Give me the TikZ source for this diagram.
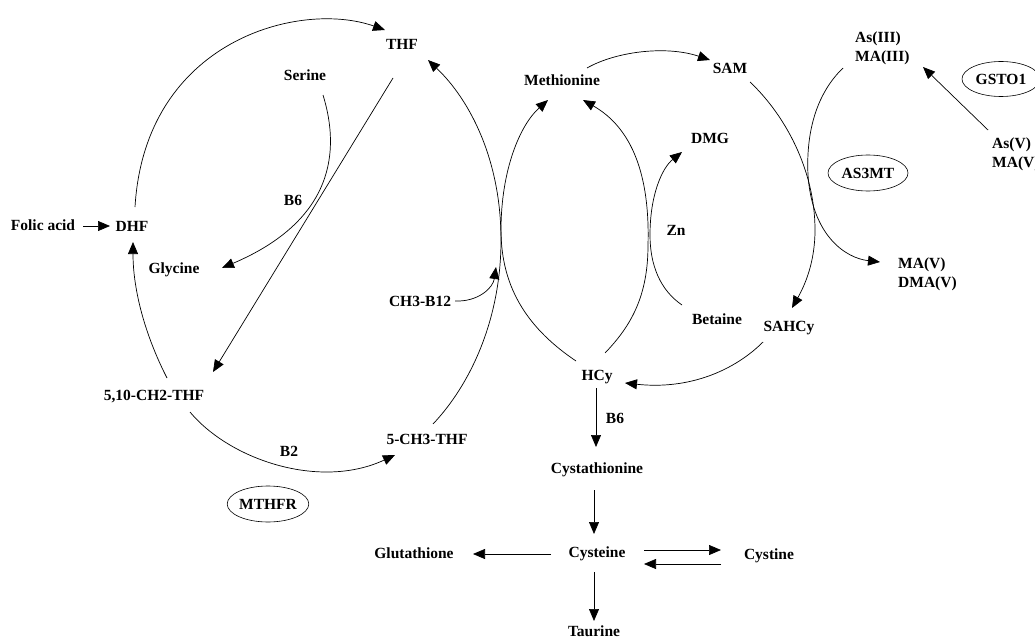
\documentclass[tikz,border=0pt]{standalone}
\usepackage{fontspec}
\setmainfont{Liberation Serif}
\usetikzlibrary{arrows.meta,calc,shapes.geometric}
\begin{document}
\begin{tikzpicture}[x=1pt,y=-1pt,
  lbl/.style={inner sep=0pt,font=\fontsize{15.5}{19}\selectfont\bfseries,text height=10.3pt,text depth=0pt},
  enz/.style={lbl,draw,ellipse,line width=0.6pt,minimum width=80pt,minimum height=36pt},
  arr/.style={-{Triangle[length=12pt,width=10pt]},line width=0.7pt},
  ]
\fill[white] (0,0) rectangle (1035,639);
\useasboundingbox (0,0) rectangle (1035,639);
\clip (0,0) rectangle (1035,639);

% labels
\node[lbl] (folic) at (43,225) {Folic acid};
\node[lbl] (DHF) at (132,226) {DHF};
\node[lbl] (THF) at (402,44) {THF};
\node[lbl] (Serine) at (305,75) {Serine};
\node[lbl] (B6a) at (293,200) {B6};
\node[lbl] (Glycine) at (174,268) {Glycine};
\node[lbl] (CH3B12) at (420,301) {CH3-B12};
\node[lbl] (CH2THF) at (154,395) {5,10-CH2-THF};
\node[lbl] (B2) at (289,451) {B2};
\node[lbl] (CH3THF) at (427,439) {5-CH3-THF};
\node[enz] (MTHFR) at (268,504) {MTHFR};
\node[lbl] (Glutathione) at (414,553) {Glutathione};
\node[lbl] (Cysteine) at (597,552) {Cysteine};
\node[lbl] (Cystine) at (769,554) {Cystine};
\node[lbl] (Taurine) at (594,631) {Taurine};
\node[lbl] (Cystathionine) at (597,468) {Cystathionine};
\node[lbl] (HCy) at (597,375) {HCy};
\node[lbl] (B6b) at (615,418) {B6};
\node[lbl] (SAHCy) at (789,326) {SAHCy};
\node[lbl] (Betaine) at (717,319) {Betaine};
\node[lbl] (Zn) at (676,230) {Zn};
\node[lbl] (DMG) at (710,138) {DMG};
\node[lbl] (Methionine) at (562,80) {Methionine};
\node[lbl] (SAM) at (730,68) {SAM};
\node[lbl,anchor=west] (AsIII) at (855,37) {As(III)};
\node[lbl,anchor=west] (MAIII) at (855,56) {MA(III)};
\node[enz,minimum width=78pt,minimum height=35pt] (GSTO1) at (1001,79) {GSTO1};
\node[lbl,anchor=west] (AsV) at (992,143) {As(V)};
\node[lbl,anchor=west] (MAVb) at (992,162) {MA(V)};
\node[enz] (AS3MT) at (868,173) {AS3MT};
\node[lbl,anchor=west] (MAV) at (898,263) {MA(V)};
\node[lbl,anchor=west] (DMAV) at (898,282) {DMA(V)};
\coordinate (b12tip) at (496,267);

% folate cycle
\draw[arr] ($(folic)+(40,1)$) -- ($(DHF)+(-22,0)$);
\draw[arr] ($(DHF)+(3,-19)$) .. controls (145,40) and (300,0) .. ($(THF)+(-17,-14)$);
\draw[arr] ($(Serine)+(18,20)$) .. controls (340,150) and (335,220) .. ($(Glycine)+(48,0)$);
\draw[arr] ($(THF)+(-9,34)$) -- ($(CH2THF)+(59,-23)$);
\draw[arr] ($(CH2THF)+(13,-17)$) .. controls (145,335) and (133,290) .. ($(DHF)+(1,16)$);
\draw[arr] ($(CH2THF)+(36,17)$) .. controls (230,460) and (320,490) .. ($(CH3THF)+(-32,16)$);
\draw[arr] ($(CH3THF)+(6,-15)$) .. controls (470,385) and (501,320) .. (501,240)
  .. controls (501,160) and (470,100) .. ($(THF)+(26,16)$);
\draw[arr] ($(CH3B12)+(35,0)$) .. controls (478,302) and (493,288) .. (b12tip);

% methionine cycle
\draw[arr] ($(HCy)+(-21,-14)$) .. controls (530,330) and (501,290) .. (501,230)
  .. controls (501,170) and (520,125) .. ($(Methionine)+(-14,20)$);
\draw[arr] ($(HCy)+(8,-22)$) .. controls (632,325) and (648,295) .. (648,245)
  .. controls (650,175) and (632,128) .. ($(Methionine)+(21,20)$);
\draw[arr] ($(Betaine)+(-35,-14)$) .. controls (660,290) and (650,265) .. (650,235)
  .. controls (650,195) and (662,168) .. ($(DMG)+(-28,14)$);
\draw[arr] ($(Methionine)+(25,-12)$) .. controls (615,52) and (665,45) .. ($(SAM)+(-20,-8)$);
\draw[arr] ($(SAM)+(20,14)$) .. controls (785,115) and (815,170) .. (815,230)
  .. controls (815,262) and (805,285) .. ($(SAHCy)+(3,-18)$);
\draw[arr] ($(SAHCy)+(-26,16)$) .. controls (735,370) and (690,390) .. ($(HCy)+(28,8)$);

% arsenic
\draw[arr] ($(MAIII.west)+(-12,12)$) .. controls (815,95) and (806,135) .. (808,175)
  .. controls (812,235) and (845,258) .. ($(MAV.west)+(-18,-1)$);
\draw[arr] ($(AsV.west)+(-4,-13)$) -- ($(MAIII.west)+(68,11)$);

% transsulfuration
\draw[arr] ($(HCy)+(-1,13)$) -- ($(Cystathionine)+(-1,-21)$);
\draw[arr] ($(Cystathionine)+(-3,22)$) -- ($(Cysteine)+(-3,-18)$);
\draw[arr] ($(Cysteine)+(-46,2)$) -- ($(Glutathione)+(59,1)$);
\draw[arr] ($(Cysteine)+(47,-2)$) -- ($(Cystine)+(-48,-4)$);
\draw[arr] ($(Cystine)+(-48,10)$) -- ($(Cysteine)+(47,12)$);
\draw[arr] ($(Cysteine)+(-3,20)$) -- ($(Taurine)+(0,-10)$);
\end{tikzpicture}
\end{document}
